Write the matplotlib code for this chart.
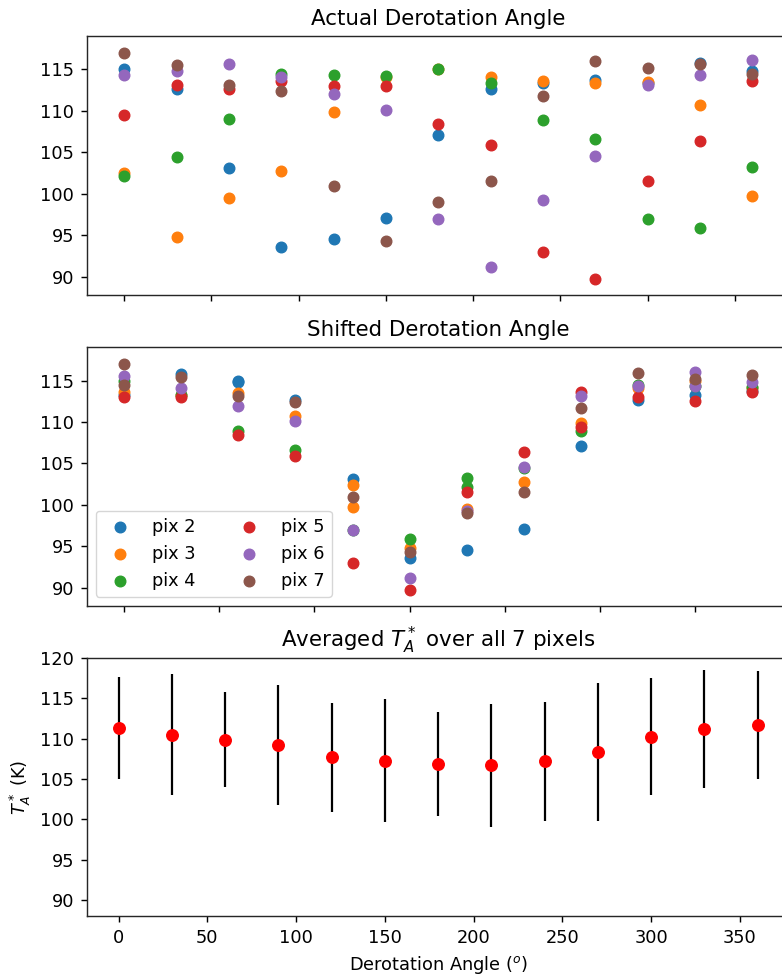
import numpy as np
import matplotlib
matplotlib.use("Agg")
import matplotlib.pyplot as plt

# derotation angles (deg) at which each pixel was measured
angles = np.arange(0, 361, 30)

# peak T_A* per pixel at each derotation angle
pix2 = [115.0, 112.66, 103.1, 93.54, 94.51, 97.08, 107.12, 112.66, 113.31, 113.71, 113.3, 115.8, 114.83]
pix3 = [102.46, 94.79, 99.52, 102.78, 109.85, 114.1, 115.0, 114.07, 113.63, 113.31, 113.51, 110.74, 99.76]
pix4 = [102.14, 104.47, 108.97, 114.47, 114.31, 114.19, 115.0, 113.31, 108.89, 106.64, 96.99, 95.91, 103.22]
pix5 = [109.45, 113.07, 112.59, 113.59, 112.99, 113.03, 108.45, 105.87, 92.94, 89.69, 101.57, 106.4, 113.59]
pix6 = [114.3, 114.83, 115.6, 114.07, 111.99, 110.13, 96.96, 91.17, 99.28, 104.59, 113.11, 114.31, 116.08]
pix7 = [117.0, 115.48, 113.1, 112.38, 100.97, 94.34, 98.97, 101.5, 111.74, 115.96, 115.16, 115.68, 114.43]

pixels = [pix2, pix3, pix4, pix5, pix6, pix7]
labels = ["pix 2", "pix 3", "pix 4", "pix 5", "pix 6", "pix 7"]
# angular offset of each pixel relative to pix 7
shifts = [60, 120, 180, 240, 300, 0]

# mean T_A* over all 7 pixels and its spread
avg_ta = [111.3, 110.45, 109.87, 109.18, 107.66, 107.25, 106.86, 106.71, 107.16, 108.3, 110.24, 111.18, 111.64]
avg_err = [6.3, 7.5, 5.9, 7.4, 6.75, 7.6, 6.47, 7.6, 7.35, 8.55, 7.2, 7.33, 6.7]

k = 1.28  # everything drawn a bit larger than the defaults
plt.rcParams.update({
    "font.size": 10 * k,
    "axes.titlesize": 12 * k,
    "axes.titlepad": 6 * k,
    "axes.labelsize": 10 * k,
    "axes.labelpad": 4 * k,
    "axes.linewidth": 0.8 * k,
    "xtick.labelsize": 10 * k,
    "ytick.labelsize": 10 * k,
    "xtick.major.size": 3.5 * k,
    "ytick.major.size": 3.5 * k,
    "xtick.major.width": 0.8 * k,
    "ytick.major.width": 0.8 * k,
    "xtick.major.pad": 3.5 * k,
    "ytick.major.pad": 3.5 * k,
    "legend.fontsize": 10 * k,
    "axes.edgecolor": "#262626",
})

fig = plt.figure(figsize=(7.82, 9.76), dpi=100)
W, H = 782.0, 976.0
left, width = 86.7 / W, 703.0 / W
ax1 = fig.add_axes([left, (H - 294.7) / H, width, 259.0 / H])
ax2 = fig.add_axes([left, (H - 605.7) / H, width, 259.0 / H])
ax3 = fig.add_axes([left, (H - 916.3) / H, width, 258.6 / H])

for vals, lab in zip(pixels, labels):
    ax1.scatter(angles, vals, s=58, label=lab)
ax1.set_title("Actual Derotation Angle")
ax1.set_xlim(-21.5, 381.5)
ax1.set_ylim(87.83, 119.05)
ax1.set_xticks(np.arange(0, 351, 50))
ax1.tick_params(labelbottom=False)

for vals, lab, sh in zip(pixels, labels, shifts):
    ax2.scatter((angles + sh) % 360, vals, s=58, label=lab)
ax2.set_title("Shifted Derotation Angle")
ax2.set_xlim(-19.7, 349.7)
ax2.set_ylim(87.83, 119.1)
ax2.set_xticks(np.arange(0, 301, 50))
ax2.tick_params(labelbottom=False)
ax2.legend(loc="lower left", ncol=2)

ax3.errorbar(angles, avg_ta, yerr=avg_err, fmt="o", color="r", ecolor="k",
             elinewidth=1.6, markersize=8.3)
ax3.set_title("Averaged $T_A^*$ over all 7 pixels")
ax3.set_xlim(-18, 378)
ax3.set_ylim(88, 120)
ax3.set_xticks(np.arange(0, 351, 50))
ax3.set_xlabel("Derotation Angle ($^o$)")
ax3.set_ylabel("$T_A^*$ (K)")

fig.savefig("out.png", dpi=100)
